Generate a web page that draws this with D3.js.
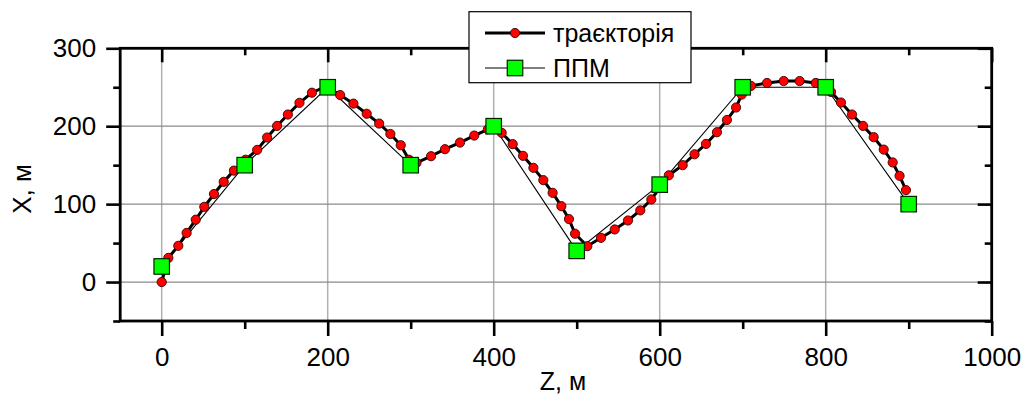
<!DOCTYPE html>
<html><head><meta charset="utf-8">
<script src="https://cdn.jsdelivr.net/npm/d3@7"></script>
<style>body{margin:0;background:#fff}svg{display:block}text{font-family:Arial,"Liberation Sans",sans-serif}</style>
</head><body><svg id="c" width="1024" height="398"></svg>
<script>
// trajectory (Z, X)
const trajZ = [0,8,20,30,41,51.3,63,74.7,87,101,115,127,139,152,166,181,198,215,231,247,262,275.5,288,298,307,324.5,341.3,359.4,376.6,393,409.6,422.9,435.3,447.8,459.8,471,481.5,490.7,498,512.8,529.3,545.8,561.8,576.6,589.9,600,611,627.7,642,655.8,669,681,692,698.8,710,729.3,749.4,768.6,788,806.4,818.4,831.7,845,857.8,869.9,880.7,889,896.7];
const trajX = [0,31,46.5,63,80,96.5,113,128.6,143,157,169.6,185.5,200.4,215,230,243,251,240,229,216,203.4,190,175.6,157,153,161.5,170.5,179,188,196,191.5,177,162,146.6,130.8,114.5,97.4,80.8,62,46,56.8,67.5,79,92,106,121,137,150,164,177.3,192.3,208,224,240.6,251.7,255.5,258,258,255.5,244,230.4,215,200.4,185.9,170,153.5,136.3,118];
// waypoints ППМ
const ppmZ = [0,100,200,300,400,500,600,700,800,900];
const ppmX = [20,150,250,150,200,40,125,250,250,100];
const xMajor = [0,200,400,600,800,1000];
const xMinor = [100,300,500,700,900];
const yMajor = [0,100,200,300];
const yMinor = [-50,50,150,250];
const legendLabels = ["траєкторія","ППМ"];
const xTitle = "Z, м", yTitle = "X, м";

const svg = d3.select("#c");
const L=120.2, R=991.7, T=48.3, B=321;
const x = d3.scaleLinear().domain([-50,1000]).range([L,R]);
const y = d3.scaleLinear().domain([-50,300]).range([B,T]);

// grid
const g = svg.append("g");
g.selectAll(".vg").data(xMajor.filter(d=>d<1000)).join("line")
  .attr("x1",d=>x(d)).attr("x2",d=>x(d)).attr("y1",T).attr("y2",B)
  .attr("stroke","#b0b0b0").attr("stroke-width",1.5);
g.selectAll(".hg").data(yMajor.filter(d=>d<300)).join("line")
  .attr("y1",d=>y(d)).attr("y2",d=>y(d)).attr("x1",L).attr("x2",R)
  .attr("stroke","#8a8a8a").attr("stroke-width",1.2);

function styleAxis(sel){
  sel.select(".domain").remove();
  sel.selectAll(".tick line").attr("stroke","#000").attr("stroke-width",2.6);
  sel.selectAll("text").attr("font-size",26).attr("fill","#000");
}
// bottom
svg.append("g").attr("transform",`translate(0,${B})`)
  .call(d3.axisBottom(x).tickValues(xMajor).tickSize(15).tickPadding(12).tickFormat(d3.format("d"))).call(styleAxis);
svg.append("g").attr("transform",`translate(0,${B})`)
  .call(d3.axisBottom(x).tickValues(xMinor).tickSize(8).tickFormat("")).call(styleAxis);
// top (inward)
svg.append("g").attr("transform",`translate(0,${T})`)
  .call(d3.axisBottom(x).tickValues(xMajor).tickSize(14).tickFormat("")).call(styleAxis);
svg.append("g").attr("transform",`translate(0,${T})`)
  .call(d3.axisBottom(x).tickValues(xMinor).tickSize(7).tickFormat("")).call(styleAxis);
// left
svg.append("g").attr("transform",`translate(${L},0)`)
  .call(d3.axisLeft(y).tickValues(yMajor).tickSize(14).tickPadding(10).tickFormat(d3.format("d"))).call(styleAxis);
svg.append("g").attr("transform",`translate(${L},0)`)
  .call(d3.axisLeft(y).tickValues(yMinor).tickSize(7).tickFormat("")).call(styleAxis);
// right (inward)
svg.append("g").attr("transform",`translate(${R},0)`)
  .call(d3.axisLeft(y).tickValues(yMajor).tickSize(14).tickFormat("")).call(styleAxis);
svg.append("g").attr("transform",`translate(${R},0)`)
  .call(d3.axisLeft(y).tickValues(yMinor).tickSize(7).tickFormat("")).call(styleAxis);
// frame
svg.append("rect").attr("x",L).attr("y",T).attr("width",R-L).attr("height",B-T)
  .attr("fill","none").attr("stroke","#000").attr("stroke-width",2.8);

// lines
const traj = trajZ.map((z,i)=>[z,trajX[i]]);
const ppm = ppmZ.map((z,i)=>[z,ppmX[i]]);
const line = d3.line().x(d=>x(d[0])).y(d=>y(d[1]));
svg.append("path").attr("d",line(ppm)).attr("fill","none").attr("stroke","#000").attr("stroke-width",1.1);
svg.append("path").attr("d",line(traj)).attr("fill","none").attr("stroke","#000").attr("stroke-width",3);
svg.selectAll(".pt").data(traj).join("circle")
  .attr("cx",d=>x(d[0])).attr("cy",d=>y(d[1])).attr("r",4.6)
  .attr("fill","#ff0000").attr("stroke","#3a0000").attr("stroke-width",0.9);
const sq=15.5;
svg.selectAll(".sq").data(ppm).join("rect")
  .attr("x",d=>x(d[0])-sq/2).attr("y",d=>y(d[1])-sq/2).attr("width",sq).attr("height",sq)
  .attr("fill","#00ff00").attr("stroke","#002000").attr("stroke-width",1.2);

// titles
svg.append("text").attr("x",563).attr("y",390).attr("text-anchor","middle").attr("font-size",25).text(xTitle);
svg.append("text").attr("transform","translate(31,189) rotate(-90)").attr("text-anchor","middle").attr("font-size",26).text(yTitle);

// legend
const lg = svg.append("g");
lg.append("rect").attr("x",469).attr("y",11.7).attr("width",222).attr("height",71)
  .attr("fill","#fff").attr("stroke","#000").attr("stroke-width",1.2);
const rows=[33,68];
lg.append("line").attr("x1",485).attr("x2",545).attr("y1",rows[0]).attr("y2",rows[0]).attr("stroke","#000").attr("stroke-width",3);
lg.append("circle").attr("cx",515).attr("cy",rows[0]).attr("r",4.6).attr("fill","#ff0000").attr("stroke","#3a0000").attr("stroke-width",0.9);
lg.append("line").attr("x1",485).attr("x2",545).attr("y1",rows[1]).attr("y2",rows[1]).attr("stroke","#000").attr("stroke-width",1.1);
lg.append("rect").attr("x",515-sq/2).attr("y",rows[1]-sq/2).attr("width",sq).attr("height",sq).attr("fill","#00ff00").attr("stroke","#002000").attr("stroke-width",1.2);
legendLabels.forEach((t,i)=>lg.append("text").attr("x",553).attr("y",rows[i]).attr("dy","0.36em").attr("font-size",25).text(t));
</script></body></html>
